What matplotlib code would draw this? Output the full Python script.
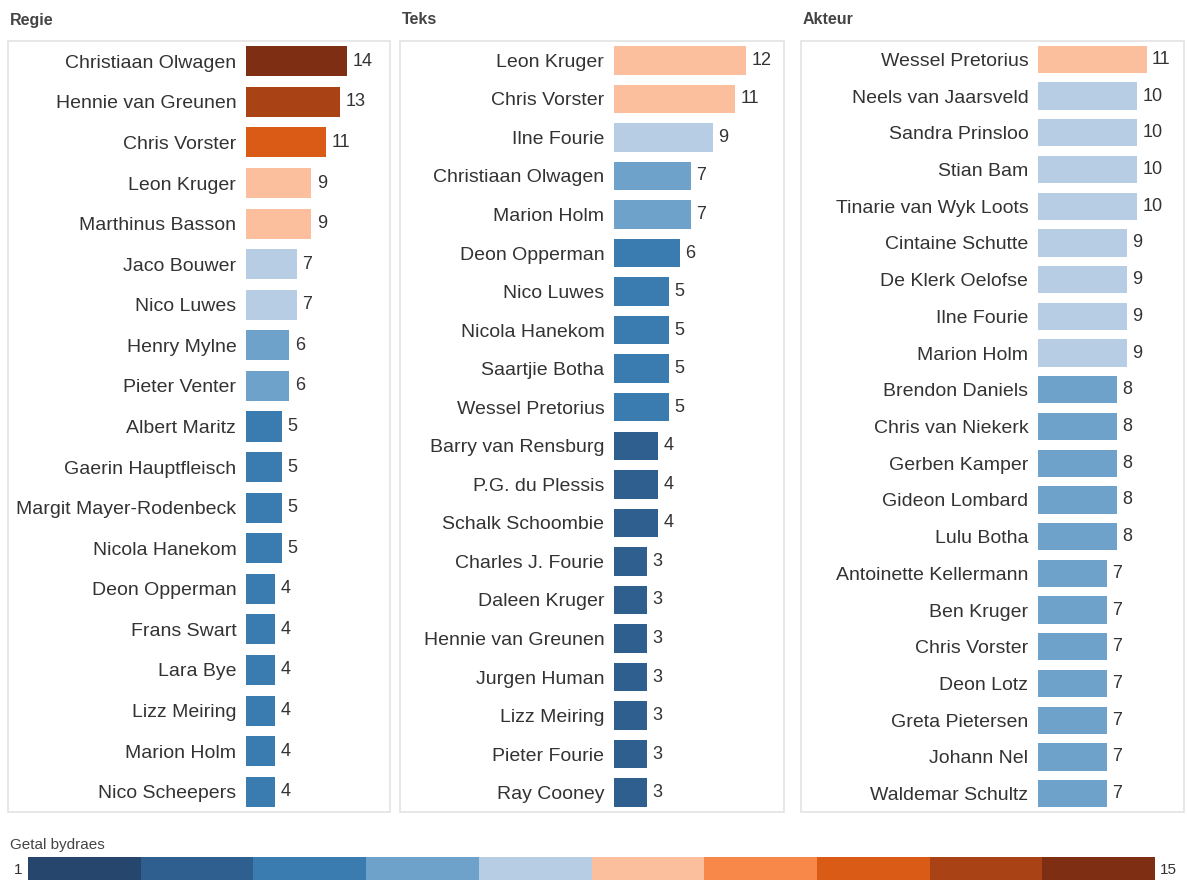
import matplotlib.pyplot as plt
from matplotlib.patches import Rectangle

plt.rcParams['font.family'] = ['Liberation Sans', 'DejaVu Sans']

# stepped legend colours (1 .. 15 in 10 steps)
step_colors = ['#27466e', '#2e5f8e', '#3a7cb0', '#6ea2cb', '#b6cde3',
               '#fbbf9d', '#f7884a', '#d95b15', '#a94315', '#7e2e12']

regie_names = ['Christiaan Olwagen', 'Hennie van Greunen', 'Chris Vorster', 'Leon Kruger',
               'Marthinus Basson', 'Jaco Bouwer', 'Nico Luwes', 'Henry Mylne', 'Pieter Venter',
               'Albert Maritz', 'Gaerin Hauptfleisch', 'Margit Mayer-Rodenbeck', 'Nicola Hanekom',
               'Deon Opperman', 'Frans Swart', 'Lara Bye', 'Lizz Meiring', 'Marion Holm',
               'Nico Scheepers']
regie_values = [14, 13, 11, 9, 9, 7, 7, 6, 6, 5, 5, 5, 5, 4, 4, 4, 4, 4, 4]
regie_steps = [10, 9, 8, 6, 6, 5, 5, 4, 4, 3, 3, 3, 3, 3, 3, 3, 3, 3, 3]

teks_names = ['Leon Kruger', 'Chris Vorster', 'Ilne Fourie', 'Christiaan Olwagen', 'Marion Holm',
              'Deon Opperman', 'Nico Luwes', 'Nicola Hanekom', 'Saartjie Botha', 'Wessel Pretorius',
              'Barry van Rensburg', 'P.G. du Plessis', 'Schalk Schoombie', 'Charles J. Fourie',
              'Daleen Kruger', 'Hennie van Greunen', 'Jurgen Human', 'Lizz Meiring',
              'Pieter Fourie', 'Ray Cooney']
teks_values = [12, 11, 9, 7, 7, 6, 5, 5, 5, 5, 4, 4, 4, 3, 3, 3, 3, 3, 3, 3]
teks_steps = [6, 6, 5, 4, 4, 3, 3, 3, 3, 3, 2, 2, 2, 2, 2, 2, 2, 2, 2, 2]

akteur_names = ['Wessel Pretorius', 'Neels van Jaarsveld', 'Sandra Prinsloo', 'Stian Bam',
                'Tinarie van Wyk Loots', 'Cintaine Schutte', 'De Klerk Oelofse', 'Ilne Fourie',
                'Marion Holm', 'Brendon Daniels', 'Chris van Niekerk', 'Gerben Kamper',
                'Gideon Lombard', 'Lulu Botha', 'Antoinette Kellermann', 'Ben Kruger',
                'Chris Vorster', 'Deon Lotz', 'Greta Pietersen', 'Johann Nel', 'Waldemar Schultz']
akteur_values = [11, 10, 10, 10, 10, 9, 9, 9, 9, 8, 8, 8, 8, 8, 7, 7, 7, 7, 7, 7, 7]
akteur_steps = [6, 5, 5, 5, 5, 5, 5, 5, 5, 4, 4, 4, 4, 4, 4, 4, 4, 4, 4, 4, 4]

W, H = 1187, 880
fig = plt.figure(figsize=(W / 100, H / 100), dpi=100)
fig.patch.set_facecolor('white')
text_col = '#333333'


def px(x0, y0, x1, y1):
    # pixel box -> figure fraction rect
    return [x0 / W, 1 - y1 / H, (x1 - x0) / W, (y1 - y0) / H]


panels = [
    ('Regie', regie_names, regie_values, regie_steps, 8, 390, 246, 19.9),
    ('Teks', teks_names, teks_values, teks_steps, 400, 784, 614, 15.5),
    ('Akteur', akteur_names, akteur_values, akteur_steps, 801, 1184, 1038, 14.8),
]

top, bottom = 41, 812
for title, names, values, steps, bx0, bx1, ax0, xmax in panels:
    # panel frame
    fig.patches.append(Rectangle((bx0 / W, 1 - bottom / H), (bx1 - bx0) / W, (bottom - top) / H,
                                 transform=fig.transFigure, fill=False,
                                 edgecolor='#e3e3e3', linewidth=1.2))
    fig.text((bx0 + 2) / W, 1 - 20 / H, title, fontsize=11.5, fontweight='bold',
             color='#444444', va='center', ha='left')

    ax = fig.add_axes(px(ax0, top, bx1, bottom))
    ypos = list(range(len(names)))
    cols = [step_colors[s - 1] for s in steps]
    ax.barh(ypos, values, height=0.74, color=cols)
    ax.set_ylim(len(names) - 0.5, -0.5)
    ax.set_xlim(0, xmax)
    ax.set_yticks(ypos)
    ax.set_yticklabels(names, fontsize=14, color=text_col)
    ax.tick_params(axis='y', length=0, pad=7)
    ax.set_xticks([])
    for s in ax.spines.values():
        s.set_visible(False)
    ax.patch.set_alpha(0)
    for y, v in zip(ypos, values):
        ax.annotate(str(v), (v, y), xytext=(4, 0), textcoords='offset points',
                    va='center', ha='left', fontsize=13, color=text_col)

# legend
fig.text(10 / W, 1 - 845 / H, 'Getal bydraes', fontsize=11, color='#444444', va='center')
lax = fig.add_axes(px(28, 857, 1155, 880))
for i, c in enumerate(step_colors):
    lax.barh(0, 1, left=i, height=1, color=c)
lax.set_xlim(0, len(step_colors))
lax.set_ylim(-0.5, 0.5)
lax.axis('off')
fig.text(14 / W, 1 - 870 / H, '1', fontsize=11, color=text_col, va='center')
fig.text(1160 / W, 1 - 870 / H, '15', fontsize=11, color=text_col, va='center')

fig.savefig('out.png', dpi=100)
